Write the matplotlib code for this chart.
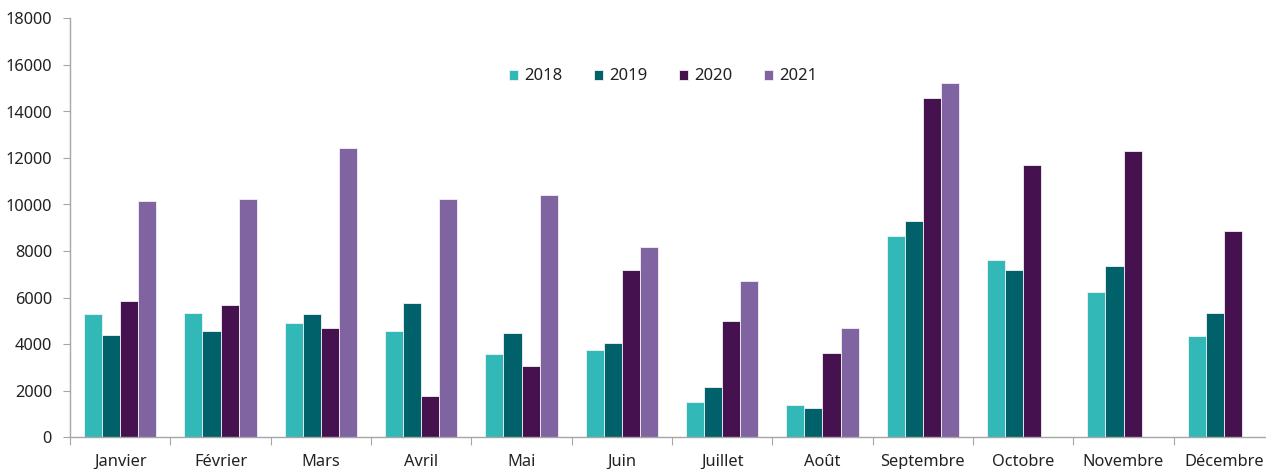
import numpy as np
import matplotlib
matplotlib.use("Agg")
from matplotlib import pyplot as plt

months = ["Janvier", "Février", "Mars", "Avril", "Mai", "Juin", "Juillet",
          "Août", "Septembre", "Octobre", "Novembre", "Décembre"]
years = ["2018", "2019", "2020", "2021"]

v2018 = [5280, 5320, 4920, 4570, 3560, 3740, 1500, 1360, 8650, 7630, 6250, 4330]
v2019 = [4370, 4570, 5280, 5780, 4460, 4030, 2140, 1250, 9280, 7200, 7340, 5350]
v2020 = [5860, 5660, 4670, 1750, 3040, 7170, 5000, 3600, 14570, 11710, 12290, 8850]
v2021 = [10140, 10220, 12420, 10220, 10410, 8170, 6720, 4670, 15240,
         np.nan, np.nan, np.nan]

colors = ["#33B8B8", "#00616B", "#46114F", "#8064A2"]

plt.rcParams["font.family"] = ["Noto Sans", "DejaVu Sans"]

W, H = 1266, 469
fig = plt.figure(figsize=(W / 100, H / 100), dpi=100)
ax = fig.add_axes([70 / W, (H - 437) / H, (1274 - 70) / W, (437 - 18.5) / H])

x = np.arange(len(months))
bw = 0.18
series = [v2018, v2019, v2020, v2021]
for i, (yr, vals, c) in enumerate(zip(years, series, colors)):
    ax.bar(x + (i - 1.5) * bw, vals, bw, color=c, label=yr,
           edgecolor="#F2F2F2", linewidth=0.6)

ax.set_xlim(-0.5, len(months) - 0.5)
ax.set_ylim(0, 18000)
ax.set_yticks(np.arange(0, 18001, 2000))

ax.set_xticks(np.arange(-0.5, len(months), 1.0))
ax.set_xticklabels([])
ax.set_xticks(x, minor=True)
ax.set_xticklabels(months, minor=True)
ax.tick_params(axis="x", which="major", length=6, color="#A6A6A6", direction="out")
ax.tick_params(axis="x", which="minor", length=0, pad=12, labelsize=11.8,
               labelcolor="#222222")
ax.tick_params(axis="y", length=5, color="#A6A6A6", pad=8, labelsize=11.8,
               labelcolor="#222222")

for s in ["top", "right"]:
    ax.spines[s].set_visible(False)
for s in ["left", "bottom"]:
    ax.spines[s].set_color("#A6A6A6")
    ax.spines[s].set_linewidth(1.0)

leg = fig.legend(loc="center", bbox_to_anchor=(663 / W, 1 - 76.5 / H), ncol=4,
                 frameon=False, fontsize=12, handlelength=0.55,
                 handleheight=0.55, handletextpad=0.35, columnspacing=1.9)
for t in leg.get_texts():
    t.set_color("#222222")

fig.savefig("out.png", dpi=100)
